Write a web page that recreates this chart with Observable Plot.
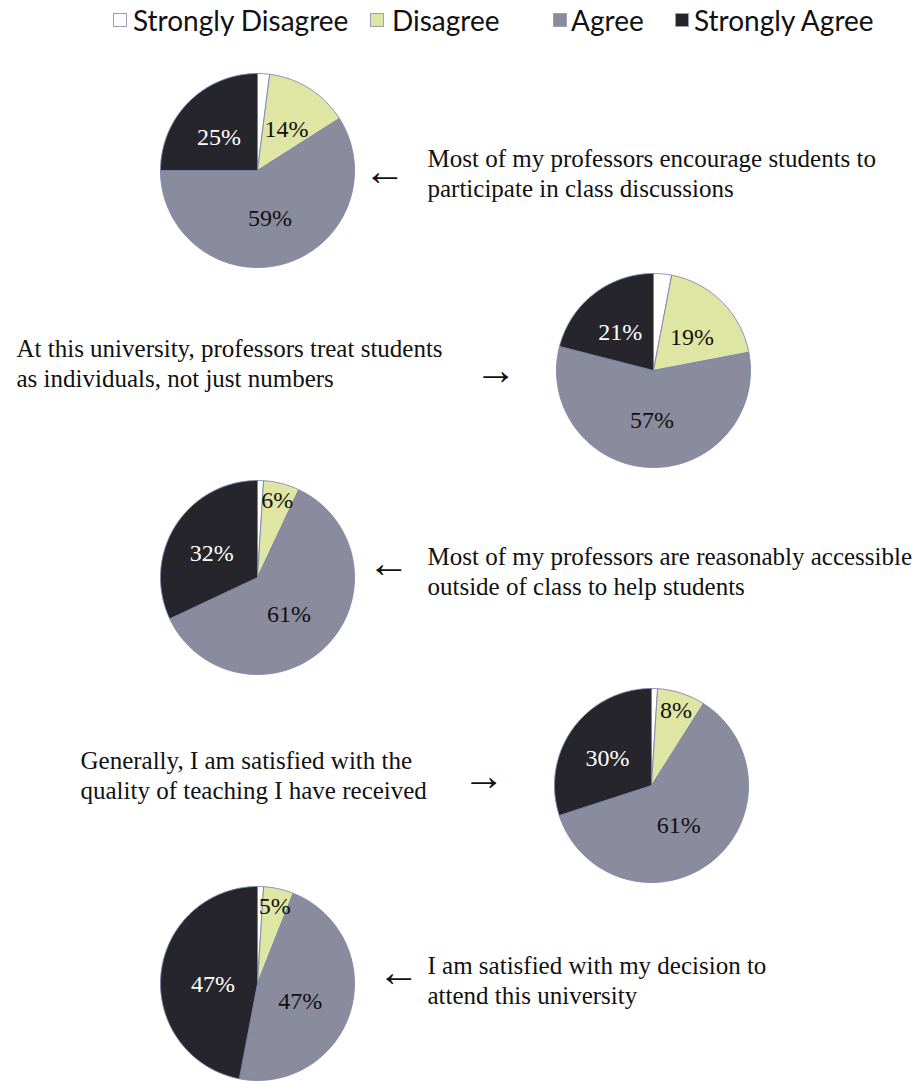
<!DOCTYPE html>
<html>
<head>
<meta charset="utf-8">
<script src="https://cdn.jsdelivr.net/npm/d3@7"></script>
<script src="https://cdn.jsdelivr.net/npm/@observablehq/plot@0.6"></script>
<style>
  html, body { margin: 0; padding: 0; background: #fff; }
  #legend { position: relative; width: 914px; height: 42px; font-family: Lato, "Open Sans", sans-serif; font-size: 28px; color: #111; }
  #legend .sw { position: absolute; top: 13px; width: 14px; height: 14px; box-sizing: border-box; border: 1px solid #9aa0b8; }
  #legend .lb { position: absolute; top: 3px; line-height: 34px; white-space: nowrap; }
  #chart svg { display: block; }
</style>
</head>
<body>
<div id="legend"></div>
<div id="chart"></div>
<script>
// ---- data ----
const categories = ["Strongly Disagree", "Disagree", "Agree", "Strongly Agree"];
const questions = [
  "Most of my professors encourage students to\nparticipate in class discussions",
  "At this university, professors treat students\nas individuals, not just numbers",
  "Most of my professors are reasonably accessible\noutside of class to help students",
  "Generally, I am satisfied with the\nquality of teaching I have received",
  "I am satisfied with my decision to\nattend this university"
];
const stronglyDisagree = [2, 3, 1, 1, 1];
const disagree = [14, 19, 6, 8, 5];
const agree = [59, 57, 61, 61, 47];
const stronglyAgree = [25, 21, 32, 30, 47];

// ---- styles / layout ----
const colors = ["#ffffff", "#dfe5a2", "#8a8b9d", "#25252b"];
const labelColors = ["#000", "#111", "#111", "#fff"];
const pieX = [257, 653, 257, 651, 257];
const pieY = [170, 370, 577, 785, 983];
const R = 97;
const textX = [427, 16, 427, 80, 427];
const textY = [172, 362, 570, 774, 979];
const arrowX = [384, 495, 388, 483, 398];
const arrowY = [171, 370, 563, 776, 972];
const arrowChar = ["←", "→", "←", "→", "←"];
const legendSwatchX = [113, 370, 553, 675];
const legendTextX = [133, 392, 571, 694];

const W = 914, H = 1081, TOP = 42;
const SERIF = "'Liberation Serif', 'Times New Roman', serif";

// legend
const legend = document.getElementById("legend");
categories.forEach((c, i) => {
  const s = document.createElement("div");
  s.className = "sw"; s.style.left = legendSwatchX[i] + "px"; s.style.background = colors[i];
  legend.appendChild(s);
  const t = document.createElement("div");
  t.className = "lb"; t.style.left = legendTextX[i] + "px"; t.textContent = categories[i];
  legend.appendChild(t);
});

// build slices
const series = [stronglyDisagree, disagree, agree, stronglyAgree];
const slicePts = [];
const labels = [];
questions.forEach((q, qi) => {
  const vals = series.map(s => s[qi]);
  const total = d3.sum(vals);
  let acc = 0;
  vals.forEach((v, ci) => {
    const a0 = acc / total * 2 * Math.PI;
    acc += v;
    const a1 = acc / total * 2 * Math.PI;
    const id = qi + "-" + ci;
    const cx = pieX[qi], cy = pieY[qi];
    slicePts.push({id, cat: categories[ci], x: cx, y: cy});
    const n = Math.max(2, Math.ceil((a1 - a0) / (Math.PI / 180)));
    for (let k = 0; k <= n; k++) {
      const a = a0 + (a1 - a0) * k / n;
      slicePts.push({id, cat: categories[ci], x: cx + R * Math.sin(a), y: cy - R * Math.cos(a)});
    }
    slicePts.push({id, cat: categories[ci], x: cx, y: cy});
    if (ci > 0) {
      const frac = v / total;
      const small = frac < 0.1;
      const rr = small ? 0.82 : frac > 0.4 ? 0.46 : 0.56;
      const am = (a0 + a1) / 2;
      labels.push({x: cx + rr * R * Math.sin(am), y: cy - rr * R * Math.cos(am) + (small ? 0 : 5), text: v + "%", color: labelColors[ci]});
    }
  });
});

const qText = questions.map((q, i) => ({x: textX[i], y: textY[i], text: q}));
const arrows = arrowChar.map((a, i) => ({x: arrowX[i], y: arrowY[i], text: a}));

const chart = Plot.plot({
  width: W,
  height: H - TOP,
  margin: 0,
  x: {domain: [0, W], range: [0, W], axis: null},
  y: {domain: [TOP, H], range: [0, H - TOP], axis: null},
  color: {domain: categories, range: colors},
  style: {background: "#fff"},
  marks: [
    Plot.line(slicePts, {x: "x", y: "y", z: "id", fill: "cat", stroke: "#7b86b0", strokeWidth: 0.9, curve: "linear"}),
    Plot.text(labels, {x: "x", y: "y", text: "text", fill: d => d.color, fontSize: 24, fontFamily: SERIF}),
    Plot.text(qText, {x: "x", y: "y", text: "text", textAnchor: "start", lineAnchor: "middle", lineHeight: 1.18, fontSize: 25, fill: "#111", fontFamily: SERIF}),
    Plot.text(arrows, {x: "x", y: "y", text: "text", fontSize: 42, fill: "#111", fontFamily: SERIF})
  ]
});
document.getElementById("chart").appendChild(chart);
</script>
</body>
</html>
